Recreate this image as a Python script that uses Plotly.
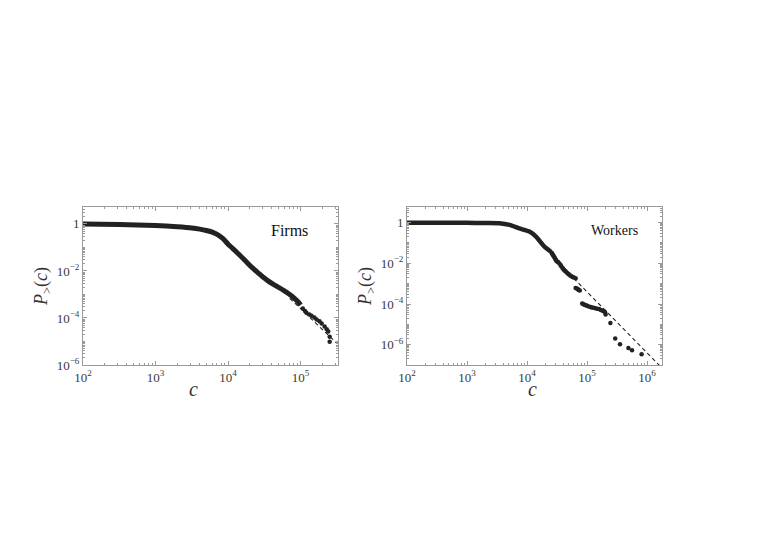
import numpy as np
import plotly.graph_objects as go

# values, as log10(c), log10(P>(c))
firms_logc = [2.0, 2.5, 3.0, 3.3, 3.5, 3.61, 3.70, 3.79, 3.86, 3.93, 4.00, 4.07, 4.14, 4.21, 4.28,
              4.34, 4.41, 4.48, 4.55, 4.62, 4.69, 4.76, 4.83, 4.90, 4.96, 5.00]
firms_logp = [0.0, -0.02, -0.07, -0.12, -0.17, -0.22, -0.28, -0.36, -0.47, -0.63, -0.86, -1.06, -1.27, -1.48, -1.70,
              -1.88, -2.07, -2.26, -2.42, -2.56, -2.69, -2.82, -2.96, -3.12, -3.30, -3.45]
firms_tail_logc = [5.03, 5.06, 5.08, 5.12, 5.15, 5.19, 5.22, 5.26, 5.29, 5.33, 5.36, 5.38, 5.40, 5.40]
firms_tail_logp = [-3.60, -3.70, -3.78, -3.85, -3.91, -3.98, -4.06, -4.14, -4.23, -4.36, -4.48, -4.58, -4.80, -5.01]
firms_fit_logc = [4.85, 5.50]
firms_fit_logp = [-3.16, -5.08]

workers_logc = [2.0, 2.55, 3.0, 3.3, 3.54, 3.71, 3.87, 4.04, 4.15, 4.29, 4.40]
workers_logp = [0.0, 0.0, -0.01, -0.02, -0.03, -0.11, -0.28, -0.44, -0.69, -1.18, -1.43]
workers_tail_logc = [4.41, 4.42, 4.43, 4.44, 4.45, 4.46, 4.47, 4.48, 4.49, 4.51, 4.52, 4.54, 4.56, 4.57,
                     4.59, 4.60, 4.62, 4.63, 4.65, 4.67, 4.69, 4.70, 4.72, 4.74, 4.76, 4.78, 4.81,
                     4.81, 4.83, 4.85, 4.86, 4.88,
                     4.92, 4.94, 4.96, 4.98, 5.00, 5.03, 5.06, 5.08, 5.11, 5.14, 5.17, 5.20, 5.23,
                     5.26, 5.28, 5.30, 5.31, 5.39, 5.47, 5.55, 5.69, 5.75, 5.91]
workers_tail_logp = [-1.48, -1.53, -1.58, -1.63, -1.67, -1.72, -1.78, -1.83, -1.88, -1.92, -1.95, -2.01, -2.08, -2.14,
                     -2.22, -2.27, -2.33, -2.37, -2.42, -2.47, -2.52, -2.55, -2.60, -2.64, -2.67, -2.70, -2.74,
                     -3.21, -3.24, -3.28, -3.31, -3.34,
                     -3.97, -4.01, -4.04, -4.06, -4.09, -4.12, -4.15, -4.17, -4.19, -4.21, -4.23, -4.25, -4.29,
                     -4.33, -4.36, -4.41, -4.52, -4.93, -5.70, -5.98, -6.16, -6.27, -6.47]
workers_fit_logc = [4.45, 6.25]
workers_fit_logp = [-1.75, -7.15]

x_ticks = [2, 3, 4, 5, 6]
x_labels = ["10<sup>2</sup>", "10<sup>3</sup>", "10<sup>4</sup>", "10<sup>5</sup>", "10<sup>6</sup>"]
y_ticks = [-6, -4, -2, 0]
y_labels = ["10<sup>\u22126</sup>", "10<sup>\u22124</sup>", "10<sup>\u22122</sup>", "1"]

W, H = 781, 552
OFF = 8  # the page body has a default 8px margin
dark = "#222222"
frame = "#9a9a9a"
serif = "Liberation Serif"


def p10(a):
    return list(10 ** np.array(a, dtype=float))


def px(x):
    return (x - OFF) / W


def py(y):
    return 1 - (y - OFF) / H


fig = go.Figure()

panels = [
    ("x", "y", firms_logc, firms_logp, firms_tail_logc, firms_tail_logp, firms_fit_logc, firms_fit_logp, 5),
    ("x2", "y2", workers_logc, workers_logp, workers_tail_logc, workers_tail_logp, workers_fit_logc, workers_fit_logp, 4.5),
]
for xa, ya, lc, lp, tc, tp, fc, fp, lw in panels:
    fig.add_trace(go.Scatter(x=p10(fc), y=p10(fp), mode="lines", xaxis=xa, yaxis=ya,
                             line=dict(color=dark, width=1.1, dash="4px,3px")))
    fig.add_trace(go.Scatter(x=p10(lc), y=p10(lp), mode="lines", xaxis=xa, yaxis=ya,
                             line=dict(color=dark, width=lw, shape="spline", smoothing=0.6)))
    fig.add_trace(go.Scatter(x=p10(tc), y=p10(tp), mode="markers", xaxis=xa, yaxis=ya,
                             marker=dict(color=dark, size=4.5)))

axis_common = dict(type="log", showline=True, linecolor=frame, linewidth=1, mirror="allticks",
                   ticks="inside", ticklen=4, tickcolor=frame, showgrid=False, zeroline=False,
                   automargin=False,
                   tickfont=dict(family=serif, size=13, color="#3a3a3a"),
                   minor=dict(ticks="inside", ticklen=2, tickcolor=frame, dtick="D1", showgrid=False))

y_title = dict(text="<i>P</i><sub>></sub>(<i>c</i>)", font=dict(family=serif, size=18, color="#333"), standoff=4)
label_font = dict(family=serif, size=20, color="#333")


def note(text, x, y, font):
    return dict(text=text, x=px(x), y=py(y), xref="paper", yref="paper", showarrow=False,
                xanchor="center", yanchor="middle", font=font)


fig.update_layout(
    width=W, height=H, showlegend=False,
    paper_bgcolor="white", plot_bgcolor="white",
    margin=dict(l=0, r=0, t=0, b=0),
    xaxis=dict(axis_common, domain=[px(83), px(338)], range=[2, 5.515],
               tickvals=p10(x_ticks[:4]), ticktext=x_labels[:4], anchor="y"),
    yaxis=dict(axis_common, domain=[py(365), py(207)], range=[-6, 0.72], anchor="x",
               tickvals=p10(y_ticks), ticktext=y_labels, title=y_title),
    xaxis2=dict(axis_common, domain=[px(407), px(662)], range=[2, 6.25], anchor="y2",
                tickvals=p10(x_ticks), ticktext=x_labels),
    yaxis2=dict(axis_common, domain=[py(365), py(207)], range=[-7, 0.77], anchor="x2",
                tickvals=p10(y_ticks), ticktext=y_labels, title=y_title),
    annotations=[
        note("Firms", 289, 230.5, dict(family=serif, size=16, color="#111")),
        note("Workers", 614, 230, dict(family=serif, size=14, color="#111")),
        note("<i>c</i>", 193, 389, label_font),
        note("<i>c</i>", 532, 389, label_font),
    ],
)

fig.write_html("out.html")
